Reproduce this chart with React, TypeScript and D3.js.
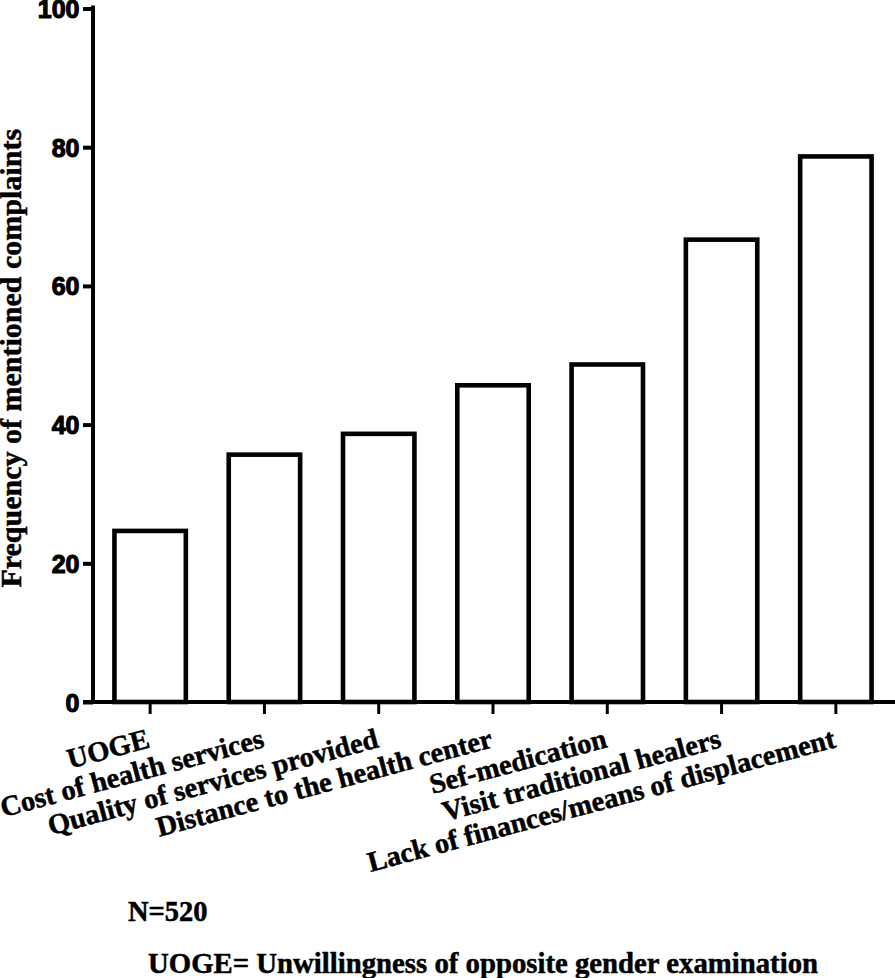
import { useEffect, useRef } from 'react'
import * as d3 from 'd3'

const categories = [
  'UOGE',
  'Cost of health services',
  'Quality of services provided',
  'Distance to the health center',
  'Sef-medication',
  'Visit traditional healers',
  'Lack of finances/means of displacement',
]
const frequencies = [25, 36, 39, 46, 49, 67, 79]
const yTicks = [0, 20, 40, 60, 80, 100]

const yLabel = 'Frequency of mentioned complaints'
const noteN = 'N=520'
const noteUoge = 'UOGE= Unwillingness of opposite gender examination'

const serif = '"Liberation Serif", "Times New Roman", serif'
const sans = '"Liberation Sans", Arial, sans-serif'

export default function App() {
  const svgRef = useRef<SVGSVGElement>(null)

  useEffect(() => {
    if (!svgRef.current) return
    const svg = d3.select(svgRef.current)
    svg.selectAll('*').remove()

    const width = 895
    const height = 978
    const left = 93
    const right = 893
    const top = 8.5
    const bottom = 702
    const sw = 4.6

    svg.attr('width', width).attr('height', height).attr('viewBox', `0 0 ${width} ${height}`)

    svg.append('rect').attr('width', width).attr('height', height).attr('fill', '#fff')

    const x = d3.scaleBand<string>()
      .domain(categories)
      .range([left, right])
      .paddingInner(0.335)
      .paddingOuter(0.1675)

    const y = d3.scaleLinear().domain([0, 100]).range([bottom, top])

    // bars: outer edge of the stroke sits on the value
    svg.append('g')
      .selectAll('rect')
      .data(categories)
      .enter()
      .append('rect')
      .attr('x', d => x(d)! + sw / 2)
      .attr('y', (d, i) => y(frequencies[i]) + sw / 2)
      .attr('width', x.bandwidth() - sw)
      .attr('height', (d, i) => y(0) - y(frequencies[i]) - sw / 2)
      .attr('fill', '#fff')
      .attr('stroke', '#000')
      .attr('stroke-width', sw)

    // y axis
    const yAxis = svg.append('g')
      .attr('transform', `translate(${left},0)`)
      .call(d3.axisLeft(y).tickValues(yTicks).tickSize(10).tickSizeOuter(0).tickPadding(3.5))
    yAxis.select('.domain').remove()
    yAxis.selectAll('.tick line').attr('stroke', '#000').attr('stroke-width', 4)
    yAxis.selectAll('.tick text')
      .attr('fill', '#000')
      .attr('stroke', '#000')
      .attr('stroke-width', 1.1)
      .attr('dy', '0.36em')
      .style('font-family', sans)
      .style('font-weight', 'bold')
      .style('font-size', '25px')

    svg.append('line')
      .attr('x1', left).attr('x2', left)
      .attr('y1', top - 1).attr('y2', bottom)
      .attr('stroke', '#000').attr('stroke-width', 4).attr('stroke-linecap', 'square')

    // x axis
    const xAxis = svg.append('g')
      .attr('transform', `translate(0,${bottom})`)
      .call(d3.axisBottom(x).tickSize(12).tickSizeOuter(0).tickFormat(() => ''))
    xAxis.select('.domain').remove()
    xAxis.selectAll('.tick line').attr('stroke', '#000').attr('stroke-width', 3)

    svg.append('line')
      .attr('x1', left - 10).attr('x2', width)
      .attr('y1', bottom).attr('y2', bottom)
      .attr('stroke', '#000').attr('stroke-width', 4)

    const serifText = (sel: d3.Selection<SVGTextElement, any, any, any>, size: number) =>
      sel.attr('fill', '#000')
        .attr('stroke', '#000')
        .attr('stroke-width', 0.5)
        .style('font-family', serif)
        .style('font-weight', 'bold')
        .style('font-size', `${size}px`)

    // rotated category labels
    svg.append('g')
      .selectAll('text')
      .data(categories)
      .enter()
      .append('text')
      .attr('transform', d => `translate(${x(d)! + x.bandwidth() / 2 + 1},${bottom + 45}) rotate(-15)`)
      .attr('text-anchor', 'end')
      .call(s => serifText(s, 28.5))
      .text(d => d)

    // y axis title
    svg.append('text')
      .attr('transform', `translate(21,${(top + bottom) / 2 + 3}) rotate(-90)`)
      .attr('text-anchor', 'middle')
      .call(s => serifText(s, 30))
      .text(yLabel)

    // notes
    svg.append('text')
      .attr('x', 128)
      .attr('y', 921)
      .call(s => serifText(s, 28.5))
      .text(noteN)

    svg.append('text')
      .attr('x', 148)
      .attr('y', 973)
      .attr('textLength', 670)
      .attr('lengthAdjust', 'spacingAndGlyphs')
      .call(s => serifText(s, 28.5))
      .text(noteUoge)
  }, [])

  return (
    <svg ref={svgRef} style={{ position: 'absolute', left: 0, top: 0, display: 'block' }} />
  )
}
